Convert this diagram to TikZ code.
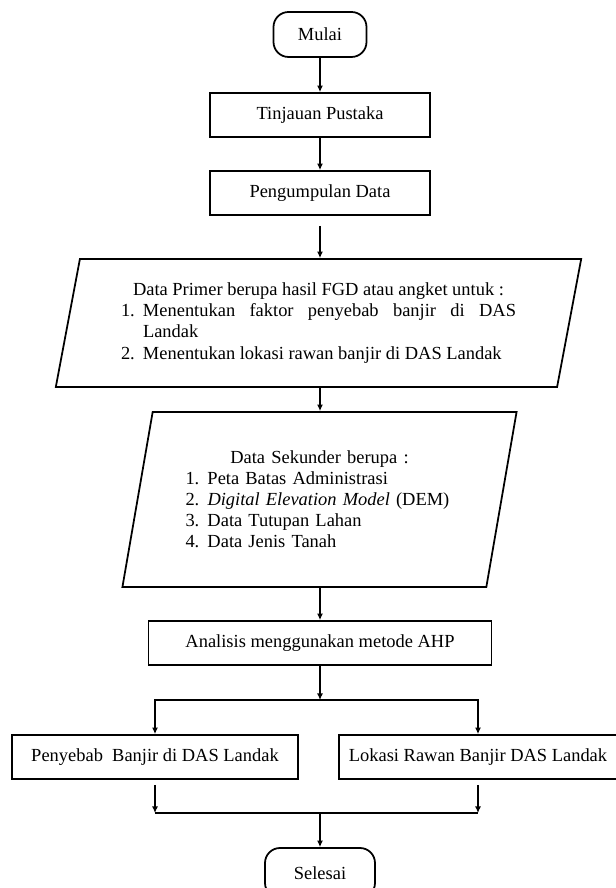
\documentclass[tikz,border=0pt]{standalone}
\usepackage{fontspec}
\setmainfont{Liberation Serif}
\usetikzlibrary{arrows.meta,shapes.geometric,calc}
\newcommand{\teks}{\fontsize{10.5}{12}\selectfont}
\newcommand{\butir}[2]{\par\noindent\hangindent=0.44cm\hangafter=1\makebox[0.44cm][l]{#1}#2\par}

\begin{document}
\begin{tikzpicture}[
    kotak/.style={draw, line width=1pt, minimum width=4.4cm, minimum height=0.88cm, inner sep=2pt, font=\teks},
    terminal/.style={draw, line width=1pt, rounded corners=0.3cm, minimum width=1.86cm, minimum height=0.9cm, font=\teks},
    datamiring/.style={draw, line width=1pt, trapezium, trapezium left angle=76, trapezium right angle=104, trapezium stretches=true, inner sep=0pt, font=\teks},
    panah/.style={-{Latex[length=1.3mm,width=1.2mm]}, line width=0.8pt}
]

% Page size
\useasboundingbox (0,0) rectangle (12.3,17.76);

% Start
\node[terminal] (mulai) at (6.4,17.07) {Mulai};
\node[kotak] (tinjauan) at (6.4,15.46) {Tinjauan Pustaka};
\node[kotak] (kumpul) at (6.4,13.9) {Pengumpulan Data};

% Data primer
\node[datamiring, align=justify, minimum width=10.54cm, minimum height=2.56cm, text width=7.9cm] (primer) at (6.37,11.3) {
    {\centering Data Primer berupa hasil FGD atau angket untuk :\par}
    \hyphenpenalty=10000
    \butir{1.}{Menentukan faktor penyebab banjir di DAS\linebreak Landak}
    \butir{2.}{Menentukan lokasi rawan banjir di DAS Landak}
};

% Data sekunder
\node[datamiring, minimum width=7.9cm, minimum height=3.5cm, text width=5.36cm] (sekunder) at (6.39,7.77) {
    {\centering Data Sekunder berupa :\par}
    \raggedright
    \butir{1.}{Peta Batas Administrasi}
    \butir{2.}{\textit{Digital Elevation Model} (DEM)}
    \butir{3.}{Data Tutupan Lahan}
    \butir{4.}{Data Jenis Tanah}
};

% Analysis and results
\node[kotak, minimum width=6.86cm] (analisis) at (6.4,4.9) {Analisis menggunakan metode AHP};
\node[kotak, minimum width=5.72cm] (penyebab) at (3.1,2.62) {Penyebab\ \ Banjir di DAS Landak};
\node[kotak, minimum width=5.56cm] (lokasi) at (9.56,2.62) {Lokasi Rawan Banjir DAS Landak};

% End
\node[terminal, minimum width=2.2cm, minimum height=1cm] (selesai) at (6.4,0.3) {Selesai};

\coordinate (cabang) at (6.4,3.76);
\coordinate (gabung) at (6.4,1.5);

% Arrows
\draw[panah] (mulai) -- (tinjauan);
\draw[panah] (tinjauan) -- (kumpul);
\draw[panah, shorten <=0.2cm] (kumpul) -- (primer.north -| kumpul);
\draw[panah] (primer.south -| kumpul) -- (sekunder.north -| kumpul);
\draw[panah] (sekunder.south -| kumpul) -- (analisis);
\draw[panah] (analisis) -- (cabang);
\draw[panah] (cabang) -| (penyebab.north);
\draw[panah] (cabang) -| (lokasi.north);
\draw[panah, shorten <=0.1cm] (penyebab.south) -- (penyebab.south |- gabung);
\draw[panah, shorten <=0.1cm] (lokasi.south) -- (lokasi.south |- gabung);
\draw[line width=0.8pt] (penyebab.south |- gabung) -- (lokasi.south |- gabung);
\draw[panah] (gabung) -- (selesai);

\end{tikzpicture}
\end{document}
